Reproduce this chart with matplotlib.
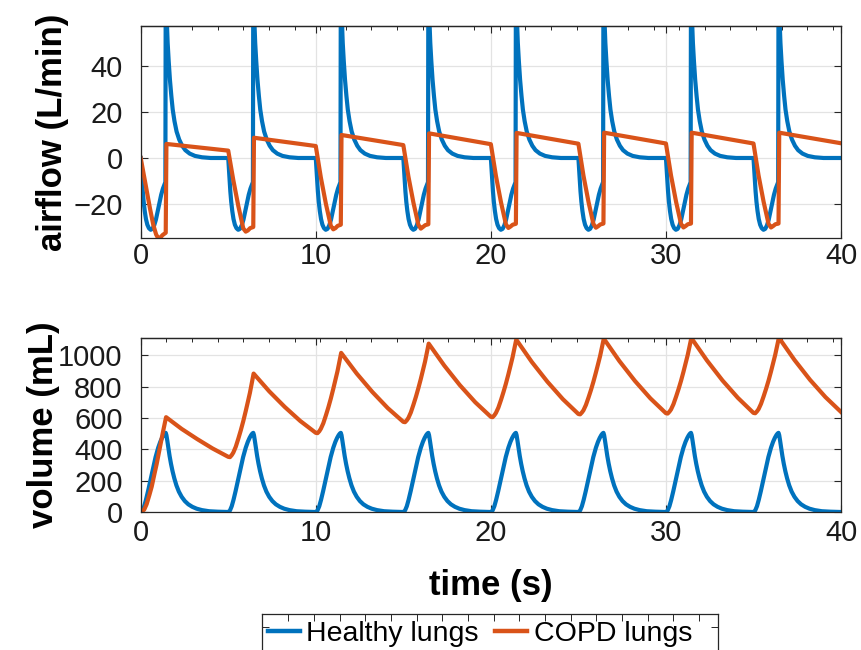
import numpy as np
import matplotlib.pyplot as plt
from matplotlib.lines import Line2D

plt.rcParams['font.family'] = ['Liberation Sans', 'DejaVu Sans']

## DATA

# healthy lungs airflow (L/min), one row per breath
healthy_flow_t = [
    0, 0.04, 0.08, 0.12, 0.17, 0.23, 0.3, 0.38, 0.47, 0.57, 0.67, 0.77, 0.87, 0.97, 1.07, 1.17, 1.27, 1.36, 1.41,
    1.43, 1.48, 1.54, 1.6, 1.67, 1.75, 1.83, 1.93, 2.05, 2.2, 2.37, 2.55, 2.8, 3.1, 3.5, 4.0,
    5, 5.04, 5.08, 5.12, 5.17, 5.23, 5.3, 5.38, 5.47, 5.57, 5.67, 5.77, 5.87, 5.97, 6.07, 6.17, 6.27, 6.36, 6.41,
    6.43, 6.48, 6.54, 6.6, 6.67, 6.75, 6.83, 6.93, 7.05, 7.2, 7.37, 7.55, 7.8, 8.1, 8.5, 9.0,
    10, 10.04, 10.08, 10.12, 10.17, 10.23, 10.3, 10.38, 10.47, 10.57, 10.67, 10.77, 10.87, 10.97, 11.07, 11.17, 11.27, 11.36, 11.41,
    11.43, 11.48, 11.54, 11.6, 11.67, 11.75, 11.83, 11.93, 12.05, 12.2, 12.37, 12.55, 12.8, 13.1, 13.5, 14.0,
    15, 15.04, 15.08, 15.12, 15.17, 15.23, 15.3, 15.38, 15.47, 15.57, 15.67, 15.77, 15.87, 15.97, 16.07, 16.17, 16.27, 16.36, 16.41,
    16.43, 16.48, 16.54, 16.6, 16.67, 16.75, 16.83, 16.93, 17.05, 17.2, 17.37, 17.55, 17.8, 18.1, 18.5, 19.0,
    20, 20.04, 20.08, 20.12, 20.17, 20.23, 20.3, 20.38, 20.47, 20.57, 20.67, 20.77, 20.87, 20.97, 21.07, 21.17, 21.27, 21.36, 21.41,
    21.43, 21.48, 21.54, 21.6, 21.67, 21.75, 21.83, 21.93, 22.05, 22.2, 22.37, 22.55, 22.8, 23.1, 23.5, 24.0,
    25, 25.04, 25.08, 25.12, 25.17, 25.23, 25.3, 25.38, 25.47, 25.57, 25.67, 25.77, 25.87, 25.97, 26.07, 26.17, 26.27, 26.36, 26.41,
    26.43, 26.48, 26.54, 26.6, 26.67, 26.75, 26.83, 26.93, 27.05, 27.2, 27.37, 27.55, 27.8, 28.1, 28.5, 29.0,
    30, 30.04, 30.08, 30.12, 30.17, 30.23, 30.3, 30.38, 30.47, 30.57, 30.67, 30.77, 30.87, 30.97, 31.07, 31.17, 31.27, 31.36, 31.41,
    31.43, 31.48, 31.54, 31.6, 31.67, 31.75, 31.83, 31.93, 32.05, 32.2, 32.37, 32.55, 32.8, 33.1, 33.5, 34.0,
    35, 35.04, 35.08, 35.12, 35.17, 35.23, 35.3, 35.38, 35.47, 35.57, 35.67, 35.77, 35.87, 35.97, 36.07, 36.17, 36.27, 36.36, 36.41,
    36.43, 36.48, 36.54, 36.6, 36.67, 36.75, 36.83, 36.93, 37.05, 37.2, 37.37, 37.55, 37.8, 38.1, 38.5, 39.0,
    40,
]
healthy_flow = [
    0, -5, -10, -14.5, -19, -23, -26.5, -29, -30.5, -31.2, -30.8, -29.3, -26.8, -23.2, -19.5, -16, -13.3, -11.5, -10.5,
    75, 62, 50, 42, 34, 27, 21, 16, 11.5, 8, 5.3, 3.4, 1.9, 0.9, 0.3, 0,
    0, -5, -10, -14.5, -19, -23, -26.5, -29, -30.5, -31.2, -30.8, -29.3, -26.8, -23.2, -19.5, -16, -13.3, -11.5, -10.5,
    75, 62, 50, 42, 34, 27, 21, 16, 11.5, 8, 5.3, 3.4, 1.9, 0.9, 0.3, 0,
    0, -5, -10, -14.5, -19, -23, -26.5, -29, -30.5, -31.2, -30.8, -29.3, -26.8, -23.2, -19.5, -16, -13.3, -11.5, -10.5,
    75, 62, 50, 42, 34, 27, 21, 16, 11.5, 8, 5.3, 3.4, 1.9, 0.9, 0.3, 0,
    0, -5, -10, -14.5, -19, -23, -26.5, -29, -30.5, -31.2, -30.8, -29.3, -26.8, -23.2, -19.5, -16, -13.3, -11.5, -10.5,
    75, 62, 50, 42, 34, 27, 21, 16, 11.5, 8, 5.3, 3.4, 1.9, 0.9, 0.3, 0,
    0, -5, -10, -14.5, -19, -23, -26.5, -29, -30.5, -31.2, -30.8, -29.3, -26.8, -23.2, -19.5, -16, -13.3, -11.5, -10.5,
    75, 62, 50, 42, 34, 27, 21, 16, 11.5, 8, 5.3, 3.4, 1.9, 0.9, 0.3, 0,
    0, -5, -10, -14.5, -19, -23, -26.5, -29, -30.5, -31.2, -30.8, -29.3, -26.8, -23.2, -19.5, -16, -13.3, -11.5, -10.5,
    75, 62, 50, 42, 34, 27, 21, 16, 11.5, 8, 5.3, 3.4, 1.9, 0.9, 0.3, 0,
    0, -5, -10, -14.5, -19, -23, -26.5, -29, -30.5, -31.2, -30.8, -29.3, -26.8, -23.2, -19.5, -16, -13.3, -11.5, -10.5,
    75, 62, 50, 42, 34, 27, 21, 16, 11.5, 8, 5.3, 3.4, 1.9, 0.9, 0.3, 0,
    0, -5, -10, -14.5, -19, -23, -26.5, -29, -30.5, -31.2, -30.8, -29.3, -26.8, -23.2, -19.5, -16, -13.3, -11.5, -10.5,
    75, 62, 50, 42, 34, 27, 21, 16, 11.5, 8, 5.3, 3.4, 1.9, 0.9, 0.3, 0,
    0,
]

# COPD lungs airflow (L/min)
copd_flow_t = [
    0, 0.25, 0.53, 0.72, 0.88, 1.0, 1.12, 1.25, 1.43, 1.47,
    5.0, 5.29, 5.58, 5.86, 6.0, 6.12, 6.25, 6.43, 6.47,
    10.0, 10.29, 10.58, 10.86, 11.0, 11.12, 11.25, 11.43, 11.47,
    15.0, 15.29, 15.58, 15.86, 16.0, 16.12, 16.25, 16.43, 16.47,
    20.0, 20.29, 20.58, 20.86, 21.0, 21.12, 21.25, 21.43, 21.47,
    25.0, 25.29, 25.58, 25.86, 26.0, 26.12, 26.25, 26.43, 26.47,
    30.0, 30.29, 30.58, 30.86, 31.0, 31.12, 31.25, 31.43, 31.47,
    35.0, 35.29, 35.58, 35.86, 36.0, 36.12, 36.25, 36.43, 36.47,
    40.0,
]
copd_flow = [
    0, -10.3, -21.9, -29.1, -33.2, -34.9, -34.6, -33.5, -32.5, 6.1,
    3.2, -9.6, -21, -30.6, -32, -31.5, -30.5, -30, 8.8,
    5.2, -8.5, -20, -29.5, -31, -30.5, -29.5, -29, 10.0,
    5.6, -8, -19.5, -29, -30.7, -30, -29.2, -28.8, 10.7,
    6.0, -7.8, -19.3, -28.8, -30.4, -29.8, -29, -28.6, 10.9,
    6.2, -7.7, -19.2, -28.7, -30.3, -29.7, -28.9, -28.5, 11.0,
    6.3, -7.6, -19.1, -28.6, -30.2, -29.6, -28.8, -28.5, 11.0,
    6.3, -7.6, -19.1, -28.6, -30.2, -29.6, -28.8, -28.5, 11.0,
    6.4,
]

# healthy lungs volume (mL), one row per breath
healthy_vol_t = [
    0, 0.1, 0.2, 0.3, 0.42, 0.55, 0.7, 0.85, 1.0, 1.12, 1.22, 1.31, 1.38, 1.43,
    1.47, 1.52, 1.58, 1.65, 1.73, 1.82, 1.92, 2.04, 2.18, 2.34, 2.52, 2.72, 2.95, 3.2, 3.5, 3.9, 4.4,
    5, 5.1, 5.2, 5.3, 5.42, 5.55, 5.7, 5.85, 6.0, 6.12, 6.22, 6.31, 6.38, 6.43,
    6.47, 6.52, 6.58, 6.65, 6.73, 6.82, 6.92, 7.04, 7.18, 7.34, 7.52, 7.72, 7.95, 8.2, 8.5, 8.9, 9.4,
    10, 10.1, 10.2, 10.3, 10.42, 10.55, 10.7, 10.85, 11.0, 11.12, 11.22, 11.31, 11.38, 11.43,
    11.47, 11.52, 11.58, 11.65, 11.73, 11.82, 11.92, 12.04, 12.18, 12.34, 12.52, 12.72, 12.95, 13.2, 13.5, 13.9, 14.4,
    15, 15.1, 15.2, 15.3, 15.42, 15.55, 15.7, 15.85, 16.0, 16.12, 16.22, 16.31, 16.38, 16.43,
    16.47, 16.52, 16.58, 16.65, 16.73, 16.82, 16.92, 17.04, 17.18, 17.34, 17.52, 17.72, 17.95, 18.2, 18.5, 18.9, 19.4,
    20, 20.1, 20.2, 20.3, 20.42, 20.55, 20.7, 20.85, 21.0, 21.12, 21.22, 21.31, 21.38, 21.43,
    21.47, 21.52, 21.58, 21.65, 21.73, 21.82, 21.92, 22.04, 22.18, 22.34, 22.52, 22.72, 22.95, 23.2, 23.5, 23.9, 24.4,
    25, 25.1, 25.2, 25.3, 25.42, 25.55, 25.7, 25.85, 26.0, 26.12, 26.22, 26.31, 26.38, 26.43,
    26.47, 26.52, 26.58, 26.65, 26.73, 26.82, 26.92, 27.04, 27.18, 27.34, 27.52, 27.72, 27.95, 28.2, 28.5, 28.9, 29.4,
    30, 30.1, 30.2, 30.3, 30.42, 30.55, 30.7, 30.85, 31.0, 31.12, 31.22, 31.31, 31.38, 31.43,
    31.47, 31.52, 31.58, 31.65, 31.73, 31.82, 31.92, 32.04, 32.18, 32.34, 32.52, 32.72, 32.95, 33.2, 33.5, 33.9, 34.4,
    35, 35.1, 35.2, 35.3, 35.42, 35.55, 35.7, 35.85, 36.0, 36.12, 36.22, 36.31, 36.38, 36.43,
    36.47, 36.52, 36.58, 36.65, 36.73, 36.82, 36.92, 37.04, 37.18, 37.34, 37.52, 37.72, 37.95, 38.2, 38.5, 38.9, 39.4,
    40,
]
healthy_vol = [
    0, 10, 37, 77, 133, 199, 277, 350, 410, 448, 473, 491, 501, 505,
    490, 455, 408, 358, 308, 260, 215, 170, 130, 97, 70, 49, 33, 21, 12, 5, 2,
    0, 10, 37, 77, 133, 199, 277, 350, 410, 448, 473, 491, 501, 505,
    490, 455, 408, 358, 308, 260, 215, 170, 130, 97, 70, 49, 33, 21, 12, 5, 2,
    0, 10, 37, 77, 133, 199, 277, 350, 410, 448, 473, 491, 501, 505,
    490, 455, 408, 358, 308, 260, 215, 170, 130, 97, 70, 49, 33, 21, 12, 5, 2,
    0, 10, 37, 77, 133, 199, 277, 350, 410, 448, 473, 491, 501, 505,
    490, 455, 408, 358, 308, 260, 215, 170, 130, 97, 70, 49, 33, 21, 12, 5, 2,
    0, 10, 37, 77, 133, 199, 277, 350, 410, 448, 473, 491, 501, 505,
    490, 455, 408, 358, 308, 260, 215, 170, 130, 97, 70, 49, 33, 21, 12, 5, 2,
    0, 10, 37, 77, 133, 199, 277, 350, 410, 448, 473, 491, 501, 505,
    490, 455, 408, 358, 308, 260, 215, 170, 130, 97, 70, 49, 33, 21, 12, 5, 2,
    0, 10, 37, 77, 133, 199, 277, 350, 410, 448, 473, 491, 501, 505,
    490, 455, 408, 358, 308, 260, 215, 170, 130, 97, 70, 49, 33, 21, 12, 5, 2,
    0, 10, 37, 77, 133, 199, 277, 350, 410, 448, 473, 491, 501, 505,
    490, 455, 408, 358, 308, 260, 215, 170, 130, 97, 70, 49, 33, 21, 12, 5, 2,
    0,
]

# COPD lungs volume (mL)
copd_vol_t = [
    0, 0.2, 0.34, 0.5, 0.63, 0.8, 0.91, 1.06, 1.2, 1.29, 1.45, 2.34, 3.23, 4.11,
    5.0, 5.1, 5.2, 5.29, 5.43, 5.58, 5.72, 5.86, 6.0, 6.12, 6.24, 6.35, 6.45, 7.34, 8.23, 9.11,
    10.0, 10.1, 10.2, 10.29, 10.43, 10.58, 10.72, 10.86, 11.0, 11.12, 11.24, 11.35, 11.45, 12.34, 13.23, 14.11,
    15.0, 15.1, 15.2, 15.29, 15.43, 15.58, 15.72, 15.86, 16.0, 16.12, 16.24, 16.35, 16.45, 17.34, 18.23, 19.11,
    20.0, 20.1, 20.2, 20.29, 20.43, 20.58, 20.72, 20.86, 21.0, 21.12, 21.24, 21.35, 21.45, 22.34, 23.23, 24.11,
    25.0, 25.1, 25.2, 25.29, 25.43, 25.58, 25.72, 25.86, 26.0, 26.12, 26.24, 26.35, 26.45, 27.34, 28.23, 29.11,
    30.0, 30.1, 30.2, 30.29, 30.43, 30.58, 30.72, 30.86, 31.0, 31.12, 31.24, 31.35, 31.45, 32.34, 33.23, 34.11,
    35.0, 35.1, 35.2, 35.29, 35.43, 35.58, 35.72, 35.86, 36.0, 36.12, 36.24, 36.35, 36.45, 37.34, 38.23, 39.11,
    40.0,
]
copd_vol = [
    0, 15, 50, 110, 162, 250, 305, 390, 470, 520, 605, 530, 465, 405,
    352, 350, 363, 379, 416, 469, 522, 580, 644, 702, 761, 825, 883, 770, 670, 581,
    505, 503, 515, 531, 566, 617, 668, 724, 786, 842, 898, 959, 1015, 883, 766, 663,
    575, 573, 585, 600, 635, 685, 735, 790, 849, 904, 959, 1019, 1074, 934, 809, 700,
    607, 605, 617, 632, 666, 715, 765, 819, 878, 932, 987, 1046, 1100, 957, 831, 720,
    625, 623, 635, 649, 683, 731, 779, 832, 890, 942, 995, 1053, 1106, 963, 836, 725,
    630, 628, 640, 654, 688, 736, 784, 836, 894, 947, 1000, 1057, 1110, 967, 839, 728,
    632, 630, 642, 656, 690, 738, 786, 838, 896, 949, 1002, 1059, 1112, 970, 843, 733,
    638,
]

labels = ["Healthy lungs", "COPD lungs"]

BLUE = "#0072BD"
ORANGE = "#D95319"
DARK = "#262626"
LW = 3.0

fig = plt.figure(figsize=(8.61, 6.5), dpi=100)
ax1 = fig.add_axes([0.1634, 0.6334, 0.8134, 0.3271])
ax2 = fig.add_axes([0.1634, 0.2123, 0.8134, 0.2682])


def style(ax, xpad):
    ax.grid(True, color="#e3e3e3", linewidth=0.9)
    ax.set_axisbelow(True)
    for s in ax.spines.values():
        s.set_color(DARK)
        s.set_linewidth(0.9)
    ax.tick_params(direction="in", length=5, width=0.8, color=DARK, labelcolor="#1a1a1a",
                   labelsize=21, top=True, right=True)
    ax.tick_params(axis="x", pad=xpad)
    ax.tick_params(axis="y", pad=13)
    # small marks along the top edge
    sec = ax.secondary_xaxis("top")
    sec.set_xticks(np.arange(0, 40.01, 1.4646))
    sec.tick_params(direction="in", length=3, width=0.7, color=DARK, labeltop=False)
    sec.spines["top"].set_color(DARK)
    sec.spines["top"].set_linewidth(0.9)


ax1.plot(healthy_flow_t, healthy_flow, color=BLUE, lw=LW)
ax1.plot(copd_flow_t, copd_flow, color=ORANGE, lw=LW)
ax1.set_xlim(0, 40)
ax1.set_ylim(min(copd_flow), 57.5)
ax1.set_xticks([0, 10, 20, 30, 40])
ax1.set_yticks([-20, 0, 20, 40])
ax1.set_ylabel("airflow (L/min)", fontsize=25, fontweight="bold")
ax1.yaxis.set_label_coords(-0.103, 0.5)
style(ax1, 3)

ax2.plot(healthy_vol_t, healthy_vol, color=BLUE, lw=LW)
ax2.plot(copd_vol_t, copd_vol, color=ORANGE, lw=LW)
ax2.set_xlim(0, 40)
ax2.set_ylim(0, max(copd_vol))
ax2.set_xticks([0, 10, 20, 30, 40])
ax2.set_yticks([0, 200, 400, 600, 800, 1000])
ax2.set_ylabel("volume (mL)", fontsize=25, fontweight="bold")
ax2.yaxis.set_label_coords(-0.115, 0.5)
ax2.set_xlabel("time (s)", fontsize=25, fontweight="bold")
ax2.xaxis.set_label_coords(0.5, -0.325)
style(ax2, 5)

# legend box (cut off by the bottom of the figure)
ax3 = fig.add_axes([262.3 / 861, -0.1, 456 / 861, 0.0549 + 0.1])
ax3.set_xlim(0, 456)
ax3.set_ylim(0, 1)
ax3.xaxis.set_ticks_position("top")
ax3.set_xticks(np.arange(26, 440, 25.67))
ax3.set_yticks([0.877])
ax3.tick_params(direction="in", length=5, width=0.7, color=DARK, labeltop=False,
                labelbottom=False, labelleft=False, left=True, right=True)
for s in ax3.spines.values():
    s.set_color(DARK)
    s.set_linewidth(0.9)

handles = [Line2D([], [], color=BLUE, lw=3.2), Line2D([], [], color=ORANGE, lw=3.2)]
fig.legend(handles, labels, loc="center left", bbox_to_anchor=(268 / 861, 16 / 650),
           ncol=2, frameon=False, fontsize=20.5, handlelength=1.12, handletextpad=0.23,
           columnspacing=0.58, borderpad=0, borderaxespad=0)

plt.savefig("out.png", dpi=100)
